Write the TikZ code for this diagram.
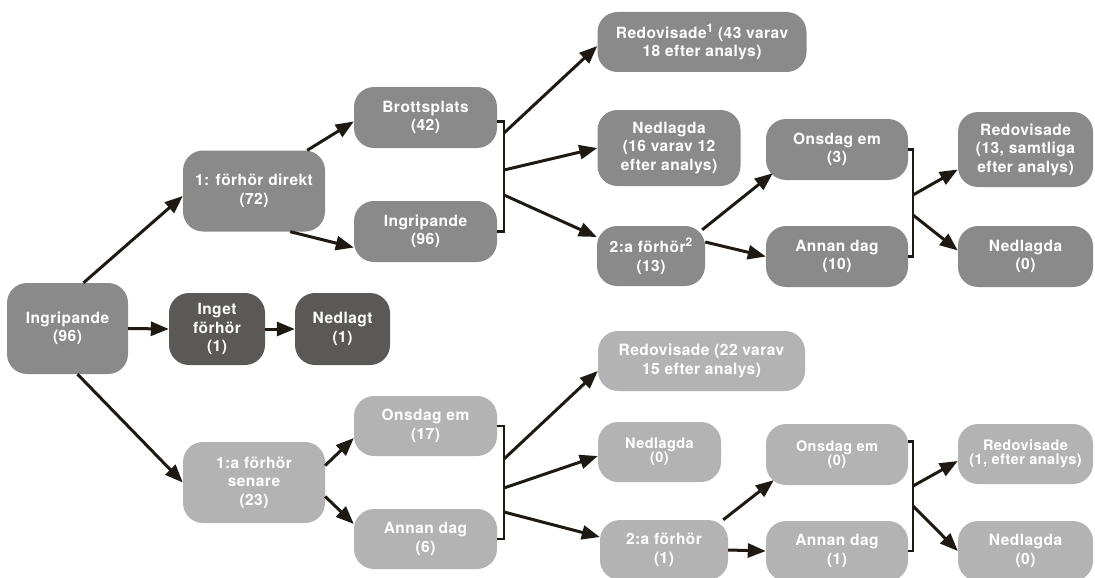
\documentclass[tikz,border=0pt]{standalone}
\usepackage{fontspec}
\setmainfont{TeX Gyre Heros}[LetterSpace=3]
\usepackage{xcolor}
\definecolor{cMid}{HTML}{8A8A8A}
\definecolor{cLight}{HTML}{B3B3B3}
\definecolor{cDark}{HTML}{5A5957}
\definecolor{cLine}{HTML}{1E1912}
\usepackage{tikz}
\usetikzlibrary{arrows.meta}
\newcommand{\upnum}[1]{\raisebox{0.4em}{\fontsize{12}{12}\selectfont #1}}
\tikzset{
  node-box/.style={rounded corners=20pt,text=white,align=center,inner sep=0pt,
    font=\fontsize{15.5}{18.5}\selectfont\bfseries},
  node-mid/.style={node-box,fill=cMid},
  node-light/.style={node-box,fill=cLight},
  node-dark/.style={node-box,fill=cDark},
  % kortare radavstånd i de små noderna
  node-small/.style={font=\fontsize{14.5}{14}\selectfont\bfseries},
  arrow/.style={-{Triangle[length=18pt,width=14pt]},line width=3pt,draw=cLine},
  bracket/.style={line width=2.5pt,draw=cLine},
}

\begin{document}
\begin{tikzpicture}[x=1pt,y=-1pt]
  \useasboundingbox (0,0) rectangle (1095,578);
  \node[node-mid,minimum width=121pt,minimum height=91pt] (root) at (67.5,328.5) {Ingripande\\(96)};
  \node[node-mid,minimum width=142pt,minimum height=81pt] (dir) at (254,191) {1: förhör direkt\\(72)};
  \node[node-mid,minimum width=143pt,minimum height=61pt] (brott) at (425.5,117.5) {Brottsplats\\(42)};
  \node[node-mid,minimum width=143pt,minimum height=61pt] (ingr) at (425.5,231.5) {Ingripande\\(96)};
  \node[node-mid,minimum width=209pt,minimum height=60pt] (red1) at (702,42) {Redovisade\upnum{1} (43 varav\\18 efter analys)};
  \node[node-mid,minimum width=143pt,minimum height=76pt] (ned1) at (669,148) {Nedlagda\\(16 varav 12\\efter analys)};
  \node[node-mid,minimum width=108pt,minimum height=60pt] (fh2a) at (651,256) {2:a förhör\upnum{2}\\(13)};
  \node[node-mid,minimum width=142pt,minimum height=61pt] (ons1) at (837,149.5) {Onsdag em\\(3)};
  \node[node-mid,minimum width=142pt,minimum height=61pt] (ann1) at (837,256.5) {Annan dag\\(10)};
  \node[node-mid,minimum width=135pt,minimum height=75pt] (red2) at (1025.5,149.5) {Redovisade\\(13, samtliga\\efter analys)};
  \node[node-mid,minimum width=135pt,minimum height=61pt] (ned2) at (1025.5,256.5) {Nedlagda\\(0)};

  \node[node-dark,minimum width=96pt,minimum height=72pt] (inget) at (217,329) {Inget\\förhör\\(1)};
  \node[node-dark,minimum width=95pt,minimum height=72pt] (nedl) at (342.5,329) {Nedlagt\\(1)};

  \node[node-light,minimum width=142pt,minimum height=81pt] (sen) at (254,482.5) {1:a förhör\\senare\\(23)};
  \node[node-light,minimum width=143pt,minimum height=60pt] (ons2) at (425.5,426) {Onsdag em\\(17)};
  \node[node-light,minimum width=143pt,minimum height=60pt] (ann2) at (425.5,539) {Annan dag\\(6)};
  \node[node-light,minimum width=207pt,minimum height=60pt] (red3) at (701.5,361) {Redovisade (22 varav\\15 efter analys)};
  \node[node-light,node-small,minimum width=123pt,minimum height=60pt] (ned3) at (659.5,452) {Nedlagda\\(0)};
  \node[node-light,minimum width=128pt,minimum height=60pt] (fh2b) at (664,550) {2:a förhör\\(1)};
  \node[node-light,node-small,minimum width=142pt,minimum height=61pt] (ons3) at (837,454.5) {Onsdag em\\(0)};
  \node[node-light,minimum width=142pt,minimum height=60pt] (ann3) at (837,551) {Annan dag\\(1)};
  \node[node-light,node-small,minimum width=135pt,minimum height=60pt] (red4) at (1025.5,454) {Redovisade\\(1, efter analys)};
  \node[node-light,minimum width=135pt,minimum height=60pt] (ned4) at (1025.5,551) {Nedlagda\\(0)};

  % klamrar
  \draw[bracket] ([yshift=-4pt]brott.east) -- ++(7,0) |- (ingr.east);
  \draw[bracket] (ons1.east) -- ++(5,0) |- (ann1.east);
  \draw[bracket] (ons2.east) -- ++(7,0) |- (ann2.east);
  \draw[bracket] ([yshift=13pt]ons3.east) -- ++(5,0) |- (ann3.east);
  \coordinate (k1a) at (504,133);
  \coordinate (k1b) at (504,170);
  \coordinate (k1c) at (504,195);
  \coordinate (k2a) at (913,195);
  \coordinate (k2b) at (913,215);
  \coordinate (k3a) at (504,459);
  \coordinate (k3b) at (504,488);
  \coordinate (k3c) at (504,512);
  \coordinate (k4a) at (913,486);
  \coordinate (k4b) at (913,506);

  \draw[arrow] ([xshift=16pt]root.north) -- ([yshift=-5pt]dir.west);
  \draw[arrow] (root.east) -- (inget.west);
  \draw[arrow] (inget.east) -- (nedl.west);
  \draw[arrow] ([xshift=10pt]root.south) -- (sen.west);
  \draw[arrow] ([xshift=-18pt]dir.north east) -- ([yshift=-4pt]brott.west);
  \draw[arrow] ([xshift=-35pt]dir.south east) -- ([yshift=-16pt]ingr.west);
  \draw[arrow] ([yshift=17pt]sen.east) -- ([yshift=-12pt]ons2.west);
  \draw[arrow] ([yshift=-14pt]sen.east) -- ([yshift=15pt]ann2.west);

  \draw[arrow] (k1a) -- ([yshift=-4pt]red1.west);
  \draw[arrow] (k1b) -- (ned1.west);
  \draw[arrow] (k1c) -- ([yshift=19pt]fh2a.west);
  \draw[arrow] ([shift={(-3pt,-4pt)}]fh2a.north east) -- ([shift={(7pt,7pt)}]ons1.south west);
  \draw[arrow] ([yshift=14pt]fh2a.east) -- (ann1.west);
  \draw[arrow] (k2a) -- ([yshift=-20pt]red2.west);
  \draw[arrow] (k2b) -- ([yshift=6pt]ned2.west);

  \draw[arrow] (k3a) -- ([yshift=-10pt]red3.west);
  \draw[arrow] (k3b) -- ([yshift=-4pt]ned3.west);
  \draw[arrow] (k3c) -- ([yshift=13pt]fh2b.west);
  \draw[arrow] ([xshift=-5pt]fh2b.north east) -- ([shift={(8pt,5pt)}]ons3.south west);
  \draw[arrow] (fh2b.east) -- (ann3.west);
  \draw[arrow] (k4a) -- ([yshift=-7pt]red4.west);
  \draw[arrow] (k4b) -- (ned4.west);
\end{tikzpicture}
\end{document}
